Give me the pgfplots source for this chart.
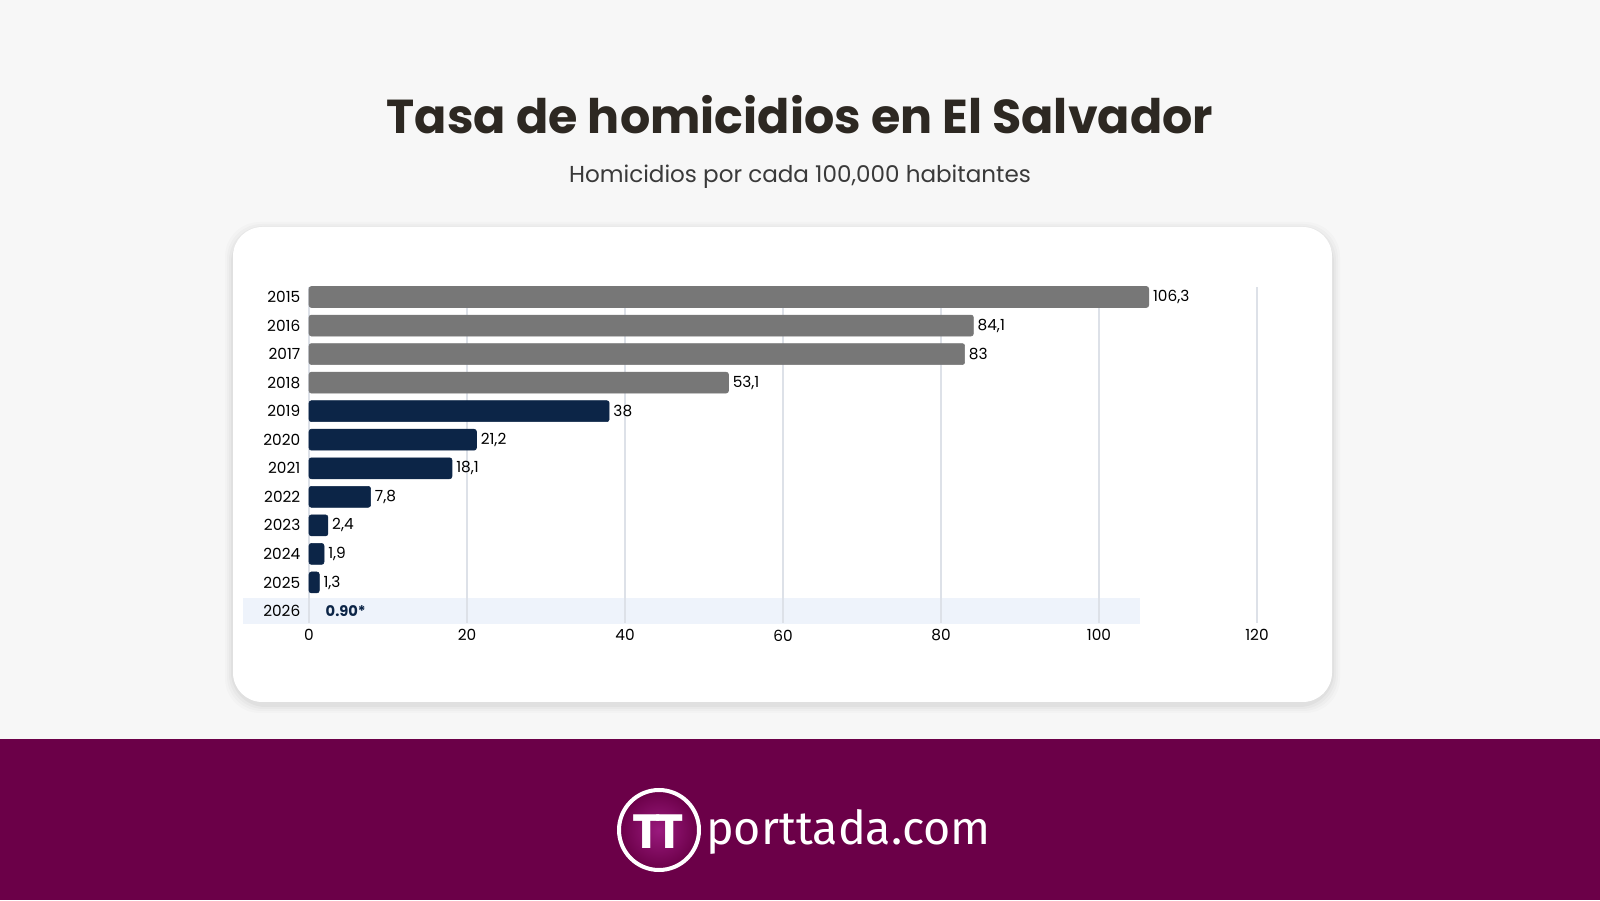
\documentclass[border=0pt]{standalone}
\usepackage{fontspec}
\setmainfont{Poppins}
\newfontfamily\logofont{Fira Sans}
\usepackage{pgfplots}
\pgfplotsset{compat=1.18}
\usepackage{pgfplotstable}

\definecolor{bg}{HTML}{F7F7F7}
\definecolor{band}{HTML}{6B0048}
\definecolor{barg}{HTML}{777777}
\definecolor{barn}{HTML}{0C2547}
\definecolor{titlec}{HTML}{2D2822}
\definecolor{subc}{HTML}{3A3A3A}
\definecolor{gridc}{HTML}{DDE1E8}
\definecolor{hl}{HTML}{EEF3FB}
\definecolor{logoin}{HTML}{9A1A7E}

\pgfplotstableread{
y val lab
11 106.3 106,3
10 84.1 84,1
9 83 83
8 53.1 53,1
}\grayd
\pgfplotstableread{
y val lab
7 38 38
6 21.2 21,2
5 18.1 18,1
4 7.8 7,8
3 2.4 2,4
2 1.9 1,9
1 1.3 1,3
}\navyd
\pgfplotstableread{
y val lab
0 0.9 0.90*
}\estd

\begin{document}
\begin{tikzpicture}[x=0.75pt,y=0.75pt]
\fill[bg] (0,0) rectangle (1600,900);
\useasboundingbox (0,0) rectangle (1600,900);
% card shadow
\foreach \s/\o in {8/0.015,6/0.02,4/0.025,2/0.03}{
  \fill[black,opacity=\o,rounded corners=26pt] (233-\s,198-\s-3) rectangle (1332+\s,673+\s-3);
}
\fill[white,rounded corners=22pt] (233,198) rectangle (1332,673);
% highlight band for 2026
\fill[hl] (243,276) rectangle (1140,302);
% title
\node[font=\fontsize{35.7}{42}\selectfont\bfseries,text=titlec] at (800,785) {Tasa de homicidios en El Salvador};
\node[font=\fontsize{17.3}{21}\selectfont,text=subc] at (800,723.5) {Homicidios por cada 100,000 habitantes};
% axis
\begin{axis}[
  at={(231.75pt,207.75pt)}, anchor=south west,
  scale only axis, width=711pt, height=252pt,
  xmin=0, xmax=120, ymin=-0.42, ymax=11.35,
  xtick={0,20,...,120},
  ytick={0,...,11},
  yticklabels={2026,2025,2024,2023,2022,2021,2020,2019,2018,2017,2016,2015},
  axis line style={draw=none},
  major tick length=0pt,
  xmajorgrids, grid style={gridc, line width=0.8pt},
  /pgf/number format/assume math mode=true,
  tick label style={font=\fontsize{11.5}{13}\selectfont, text=black},
  yticklabel style={xshift=-3pt},
  xticklabel style={yshift=-1.5pt},
  clip=false,
  xbar, bar width=15.75pt, bar shift=0pt,
  nodes near coords, point meta=explicit symbolic,
  every node near coord/.style={font=\fontsize{11.5}{13}\selectfont, text=black, anchor=west, inner sep=3pt},
]
\addplot[fill=barg, draw=barg, rounded corners=1.8pt] table[x=val,y=y,meta=lab] {\grayd};
\addplot[fill=barn, draw=barn, rounded corners=1.8pt] table[x=val,y=y,meta=lab] {\navyd};
\addplot[fill=none, draw=none, nodes near coords style={font=\fontsize{11}{13}\selectfont\bfseries, text=barn, xshift=4pt}] table[x=val,y=y,meta=lab] {\estd};
\end{axis}
% footer band
\fill[band] (0,0) rectangle (1600,161);
\shade[inner color=logoin, outer color=band] (659,70) circle (39);
\draw[white, line width=3pt] (659,70) circle (40);
\node[font=\fontsize{36}{40}\selectfont\bfseries, text=white, inner sep=0pt] at (659,68) {\kern-1pt T\kern-4.5pt T};
\node[font=\logofont\fontsize{35}{40}\selectfont, text=white, anchor=west, inner sep=0pt] at (706,68) {porttada.com};
\end{tikzpicture}
\end{document}
